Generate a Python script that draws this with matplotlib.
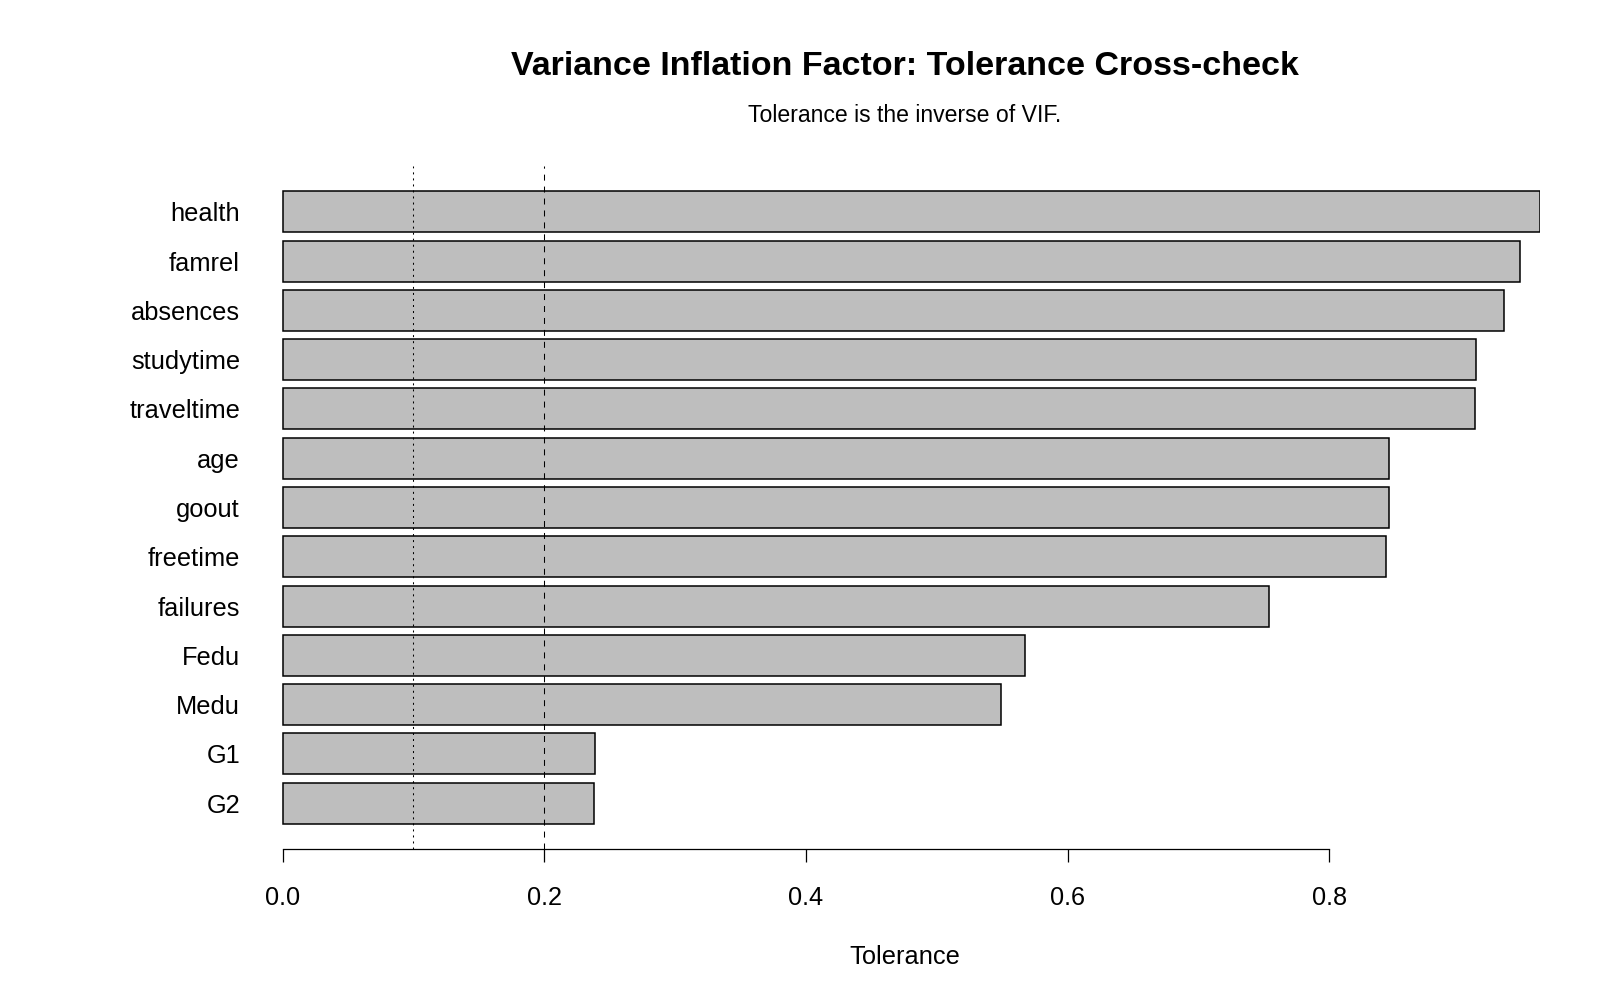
import matplotlib
matplotlib.use("Agg")
import matplotlib.pyplot as plt

plt.rcParams['font.family'] = ['Liberation Sans', 'DejaVu Sans']
plt.rcParams['lines.scale_dashes'] = False

# Data (top to bottom as displayed)
variables = ["health", "famrel", "absences", "studytime", "traveltime", "age",
             "goout", "freetime", "failures", "Fedu", "Medu", "G1", "G2"]
tolerance = [0.9608, 0.9455, 0.9333, 0.9119, 0.9111, 0.8459,
             0.8454, 0.8431, 0.7537, 0.5672, 0.5489, 0.2385, 0.2378]
xticks = [0.0, 0.2, 0.4, 0.6, 0.8]
xtick_labels = ["0.0", "0.2", "0.4", "0.6", "0.8"]
ref_lines = [0.1, 0.2]

W, H = 1600, 1000
fig = plt.figure(figsize=(16, 10), dpi=100)
ax = fig.add_axes([270 / W, 1 - 849 / H, 1270 / W, 683 / H])

n = len(variables)
# R barplot layout: width 1, space 0.2 ; first (bottom) item is last in list
ypos = [0.7 + 1.2 * (n - 1 - i) for i in range(n)]
ax.barh(ypos, tolerance, height=1.0, color="#BEBEBE", edgecolor="black",
        linewidth=1.1, zorder=2)

ax.set_xlim(-12.5 / 1308.5, (1540 - 282.5) / 1308.5)
ax.set_ylim(-0.416, 16.216)

ax.axvline(ref_lines[0], color="black", linewidth=0.75, dashes=(1.44, 2.9), zorder=3)
ax.axvline(ref_lines[1], color="black", linewidth=0.75, dashes=(4.3, 4.3), zorder=3)

for s in ["top", "right", "left"]:
    ax.spines[s].set_visible(False)
ax.spines["bottom"].set_bounds(xticks[0], xticks[-1])
ax.spines["bottom"].set_linewidth(0.9)

ax.set_xticks(xticks)
ax.set_xticklabels(xtick_labels, fontsize=18.2)
ax.tick_params(axis="x", direction="out", length=9.4, width=0.9, pad=17)

ax.set_yticks(ypos)
ax.set_yticklabels(variables, fontsize=18.3)
ax.tick_params(axis="y", length=0, pad=21.6)

fig.text(905 / W, 1 - 66 / H, "Variance Inflation Factor: Tolerance Cross-check",
         ha="center", va="center", fontsize=24.5, fontweight="bold")
fig.text(905 / W, 1 - 116 / H, "Tolerance is the inverse of VIF.",
         ha="center", va="center", fontsize=16.6)
fig.text(905 / W, 1 - 957 / H, "Tolerance", ha="center", va="center", fontsize=18.3)

fig.savefig("out.png", dpi=100)
